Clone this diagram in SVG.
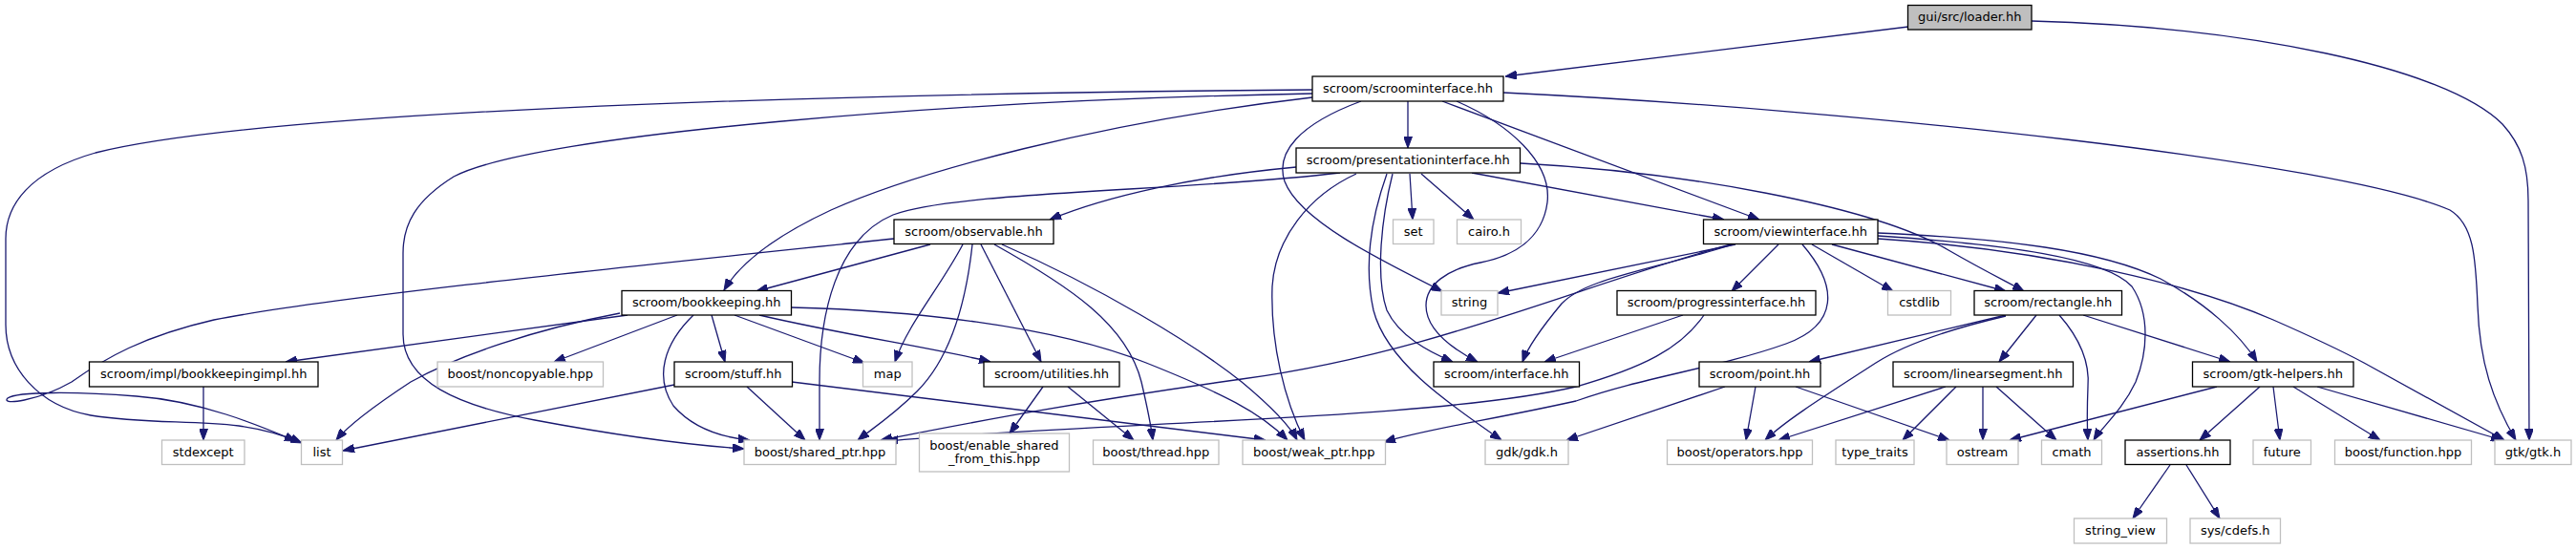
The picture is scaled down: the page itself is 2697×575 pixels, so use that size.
<svg xmlns="http://www.w3.org/2000/svg" width="2697" height="575" viewBox="0 0 2697 575">
<style>
text{font-family:"DejaVu Sans","Liberation Sans",sans-serif;font-size:13px;fill:#000;text-anchor:middle}
.n rect{fill:#fff;stroke:#000;stroke-width:1.3}
.x rect{fill:#fff;stroke:#bfbfbf;stroke-width:1.3}
.r rect{fill:#bfbfbf;stroke:#000;stroke-width:1.3}
#edges path{fill:none;stroke:#191970;stroke-width:1.3;marker-end:url(#ah)}
</style>
<defs>
<marker id="ah" markerUnits="userSpaceOnUse" markerWidth="12" markerHeight="9" viewBox="0 0 12 9" refX="12" refY="4.5" orient="auto">
<path d="M0,0 L12,4.5 L0,9 z" fill="#191970" stroke="#191970"/>
</marker>
</defs>
<rect width="2697" height="575" fill="#fff"/>
<g id="edges">
<path d="M1998,28 L1576,80"/>
<path d="M2127,22 C2350,28 2560,70 2620,130 C2640,152 2647,175 2647,210 L2648,461"/>
<path d="M1474,106 L1474,155"/>
<path d="M1510,106 L1842,230"/>
<path d="M1425,106 C1360,130 1335,160 1345,190 C1360,230 1440,270 1510,305"/>
<path d="M1525,106 C1580,130 1625,170 1620,212 C1615,250 1585,268 1550,275 C1515,282 1493,298 1493,320 C1493,345 1520,365 1547,379"/>
<path d="M1574,97 C1950,115 2450,170 2565,220 C2590,235 2592,270 2594,320 C2596,380 2610,420 2634,461"/>
<path d="M1374,94 C1000,97 300,110 100,160 C30,180 6,215 6,250 L6,340 C6,385 40,425 95,435 C150,444 200,440 250,446 C280,450 300,457 316,464"/>
<path d="M1374,98 C1000,105 560,140 475,185 C435,210 422,235 422,265 L422,350 C422,400 480,425 560,440 C640,455 720,466 779,470"/>
<path d="M1374,102 C1150,128 960,180 870,220 C810,248 775,275 758,304"/>
<path d="M1357,175 C1250,185 1160,205 1099,230"/>
<path d="M1403,181 C1250,200 1000,200 935,225 C875,250 858,330 858,400 L858,461"/>
<path d="M1420,182 C1370,205 1335,250 1332,300 C1330,360 1345,420 1366,461"/>
<path d="M1452,182 C1435,230 1428,280 1438,325 C1452,380 1520,425 1572,461"/>
<path d="M1458,182 C1446,230 1440,290 1452,325 C1465,352 1495,368 1521,379"/>
<path d="M1476,182 L1479,230"/>
<path d="M1488,182 L1543,230"/>
<path d="M1541,181 L1805,230"/>
<path d="M1592,171 C1760,180 1960,215 2040,262 C2080,285 2105,297 2119,305"/>
<path d="M936,250 C700,275 350,310 224,335 C150,352 110,375 75,400 C40,420 0,425 8,417 C18,410 80,410 143,415 C210,420 270,445 310,462"/>
<path d="M974,256 L792,305"/>
<path d="M1008,256 C985,300 950,340 937,379"/>
<path d="M1018,256 C1010,330 990,380 960,410 C935,435 912,450 898,461"/>
<path d="M1027,256 L1090,379"/>
<path d="M1041,256 C1120,300 1180,340 1195,400 C1202,430 1205,445 1207,461"/>
<path d="M1049,256 C1150,300 1250,360 1300,400 C1330,425 1350,445 1358,461"/>
<path d="M657,330 L299,379"/>
<path d="M649,328 C560,345 480,372 430,400 C392,425 365,445 352,461"/>
<path d="M709,330 L580,379"/>
<path d="M726,330 C695,360 685,395 705,425 C725,448 755,458 785,461"/>
<path d="M745,330 L759,379"/>
<path d="M769,330 L905,380"/>
<path d="M795,330 C880,350 980,365 1037,379"/>
<path d="M828,322 C950,325 1100,340 1200,380 C1280,412 1320,432 1348,461"/>
<path d="M706,403 L359,472"/>
<path d="M782,405 L843,461"/>
<path d="M829,400 L1325,461"/>
<path d="M213,405 L213,461"/>
<path d="M1092,405 L1057,454"/>
<path d="M1118,405 L1187,461"/>
<path d="M1817,256 L1568,307"/>
<path d="M1815,256 C1720,285 1660,292 1635,318 C1615,342 1600,362 1594,379"/>
<path d="M1812,256 C1650,300 1500,370 1300,397 C1100,425 990,448 922,461"/>
<path d="M1862,256 L1813,305"/>
<path d="M1897,256 L1982,305"/>
<path d="M1918,256 L2100,305"/>
<path d="M1887,256 C1925,300 1925,340 1870,360 C1800,385 1720,395 1650,420 C1560,440 1490,450 1449,463"/>
<path d="M1966,244 C2100,250 2200,262 2262,292 C2310,318 2345,350 2363,379"/>
<path d="M1966,247 C2100,256 2205,270 2232,300 C2252,330 2248,370 2236,400 C2222,430 2200,448 2192,461"/>
<path d="M1966,250 C2150,262 2300,300 2380,335 C2430,357 2460,372 2475,380 L2622,461"/>
<path d="M1762,330 L1617,379"/>
<path d="M1784,330 C1760,365 1720,385 1650,405 C1500,440 1150,442 928,462"/>
<path d="M2100,330 L1894,379"/>
<path d="M2100,331 C2040,345 1995,360 1964,380 C1910,415 1870,440 1848,461"/>
<path d="M2132,330 L2093,379"/>
<path d="M2156,330 C2178,355 2188,380 2186,405 C2185,430 2185,445 2186,461"/>
<path d="M2181,330 L2335,379"/>
<path d="M1806,405 L1640,461"/>
<path d="M1838,405 L1828,461"/>
<path d="M1880,405 L2041,461"/>
<path d="M2037,405 L1862,461"/>
<path d="M2048,405 L1992,461"/>
<path d="M2076,405 L2076,461"/>
<path d="M2090,405 L2153,461"/>
<path d="M2321,405 L2104,461"/>
<path d="M2366,405 L2303,461"/>
<path d="M2380,405 L2387,461"/>
<path d="M2401,405 L2492,461"/>
<path d="M2426,405 L2620,461"/>
<path d="M2272,487 L2233,543"/>
<path d="M2289,487 L2324,543"/>
</g>
<g id="loader" class="r"><rect x="1997.5" y="5.5" width="129.5" height="25.5"/><text x="2062.25" y="22">gui/src/loader.hh</text></g>
<g id="scroominterface" class="n"><rect x="1374" y="80" width="200" height="26"/><text x="1474" y="96.8">scroom/scroominterface.hh</text></g>
<g id="presentationinterface" class="n"><rect x="1357" y="155" width="234.5" height="26"/><text x="1474.25" y="171.8">scroom/presentationinterface.hh</text></g>
<g id="observable" class="n"><rect x="936" y="230" width="167" height="25.5"/><text x="1019.5" y="246.5">scroom/observable.hh</text></g>
<g id="set" class="x"><rect x="1458.5" y="230" width="42.5" height="25.5"/><text x="1479.75" y="246.5">set</text></g>
<g id="cairo" class="x"><rect x="1525.5" y="230" width="67" height="25.5"/><text x="1559" y="246.5">cairo.h</text></g>
<g id="viewinterface" class="n"><rect x="1783.5" y="230" width="182.5" height="25.5"/><text x="1874.75" y="246.5">scroom/viewinterface.hh</text></g>
<g id="bookkeeping" class="n"><rect x="651" y="304.5" width="177.5" height="25.5"/><text x="739.75" y="321">scroom/bookkeeping.hh</text></g>
<g id="string" class="x"><rect x="1509" y="304.5" width="59" height="25.5"/><text x="1538.5" y="321">string</text></g>
<g id="progressinterface" class="n"><rect x="1693" y="304.5" width="208" height="25.5"/><text x="1797" y="321">scroom/progressinterface.hh</text></g>
<g id="cstdlib" class="x"><rect x="1976.5" y="304.5" width="66" height="25.5"/><text x="2009.5" y="321">cstdlib</text></g>
<g id="rectangle" class="n"><rect x="2067" y="304.5" width="154.5" height="25.5"/><text x="2144.25" y="321">scroom/rectangle.hh</text></g>
<g id="bookkeepingimpl" class="n"><rect x="93.5" y="379" width="239.5" height="26"/><text x="213.25" y="395.8">scroom/impl/bookkeepingimpl.hh</text></g>
<g id="noncopyable" class="x"><rect x="458" y="379" width="173.5" height="26"/><text x="544.75" y="395.8">boost/noncopyable.hpp</text></g>
<g id="stuff" class="n"><rect x="706" y="379" width="123.5" height="26"/><text x="767.75" y="395.8">scroom/stuff.hh</text></g>
<g id="map" class="x"><rect x="903.5" y="379" width="51.5" height="26"/><text x="929.25" y="395.8">map</text></g>
<g id="utilities" class="n"><rect x="1030" y="379" width="142" height="26"/><text x="1101" y="395.8">scroom/utilities.hh</text></g>
<g id="interface" class="n"><rect x="1501" y="379" width="152.5" height="26"/><text x="1577.25" y="395.8">scroom/interface.hh</text></g>
<g id="point" class="n"><rect x="1779" y="379" width="127" height="26"/><text x="1842.5" y="395.8">scroom/point.hh</text></g>
<g id="linearsegment" class="n"><rect x="1982" y="379" width="188.5" height="26"/><text x="2076.25" y="395.8">scroom/linearsegment.hh</text></g>
<g id="gtkhelpers" class="n"><rect x="2295.5" y="379" width="168.5" height="26"/><text x="2379.75" y="395.8">scroom/gtk-helpers.hh</text></g>
<g id="stdexcept" class="x"><rect x="169.5" y="461" width="86.5" height="25.5"/><text x="212.75" y="477.5">stdexcept</text></g>
<g id="list" class="x"><rect x="315.5" y="461" width="43" height="25.5"/><text x="337" y="477.5">list</text></g>
<g id="shared_ptr" class="x"><rect x="779" y="461" width="159" height="25.5"/><text x="858.5" y="477.5">boost/shared_ptr.hpp</text></g>
<g id="enable_shared" class="x"><rect x="962.5" y="454" width="157" height="40"/><text x="1041" y="470.5">boost/enable_shared</text><text x="1041" y="485">_from_this.hpp</text></g>
<g id="thread" class="x"><rect x="1144.5" y="461" width="131.5" height="25.5"/><text x="1210.25" y="477.5">boost/thread.hpp</text></g>
<g id="weak_ptr" class="x"><rect x="1301" y="461" width="149.5" height="25.5"/><text x="1375.75" y="477.5">boost/weak_ptr.hpp</text></g>
<g id="gdk" class="x"><rect x="1555" y="461" width="87" height="25.5"/><text x="1598.5" y="477.5">gdk/gdk.h</text></g>
<g id="operators" class="x"><rect x="1745.5" y="461" width="152" height="25.5"/><text x="1821.5" y="477.5">boost/operators.hpp</text></g>
<g id="type_traits" class="x"><rect x="1922" y="461" width="82" height="25.5"/><text x="1963" y="477.5">type_traits</text></g>
<g id="ostream" class="x"><rect x="2038" y="461" width="75" height="25.5"/><text x="2075.5" y="477.5">ostream</text></g>
<g id="cmath" class="x"><rect x="2137.5" y="461" width="63" height="25.5"/><text x="2169" y="477.5">cmath</text></g>
<g id="assertions" class="n"><rect x="2225" y="461" width="110" height="25.5"/><text x="2280" y="477.5">assertions.hh</text></g>
<g id="future" class="x"><rect x="2359" y="461" width="60.5" height="25.5"/><text x="2389.25" y="477.5">future</text></g>
<g id="function" class="x"><rect x="2444.5" y="461" width="143" height="25.5"/><text x="2516" y="477.5">boost/function.hpp</text></g>
<g id="gtk" class="x"><rect x="2612" y="461" width="80" height="25.5"/><text x="2652" y="477.5">gtk/gtk.h</text></g>
<g id="string_view" class="x"><rect x="2171.5" y="543" width="97" height="26"/><text x="2220" y="559.8">string_view</text></g>
<g id="cdefs" class="x"><rect x="2293" y="543" width="94.5" height="26"/><text x="2340.25" y="559.8">sys/cdefs.h</text></g>
</svg>
